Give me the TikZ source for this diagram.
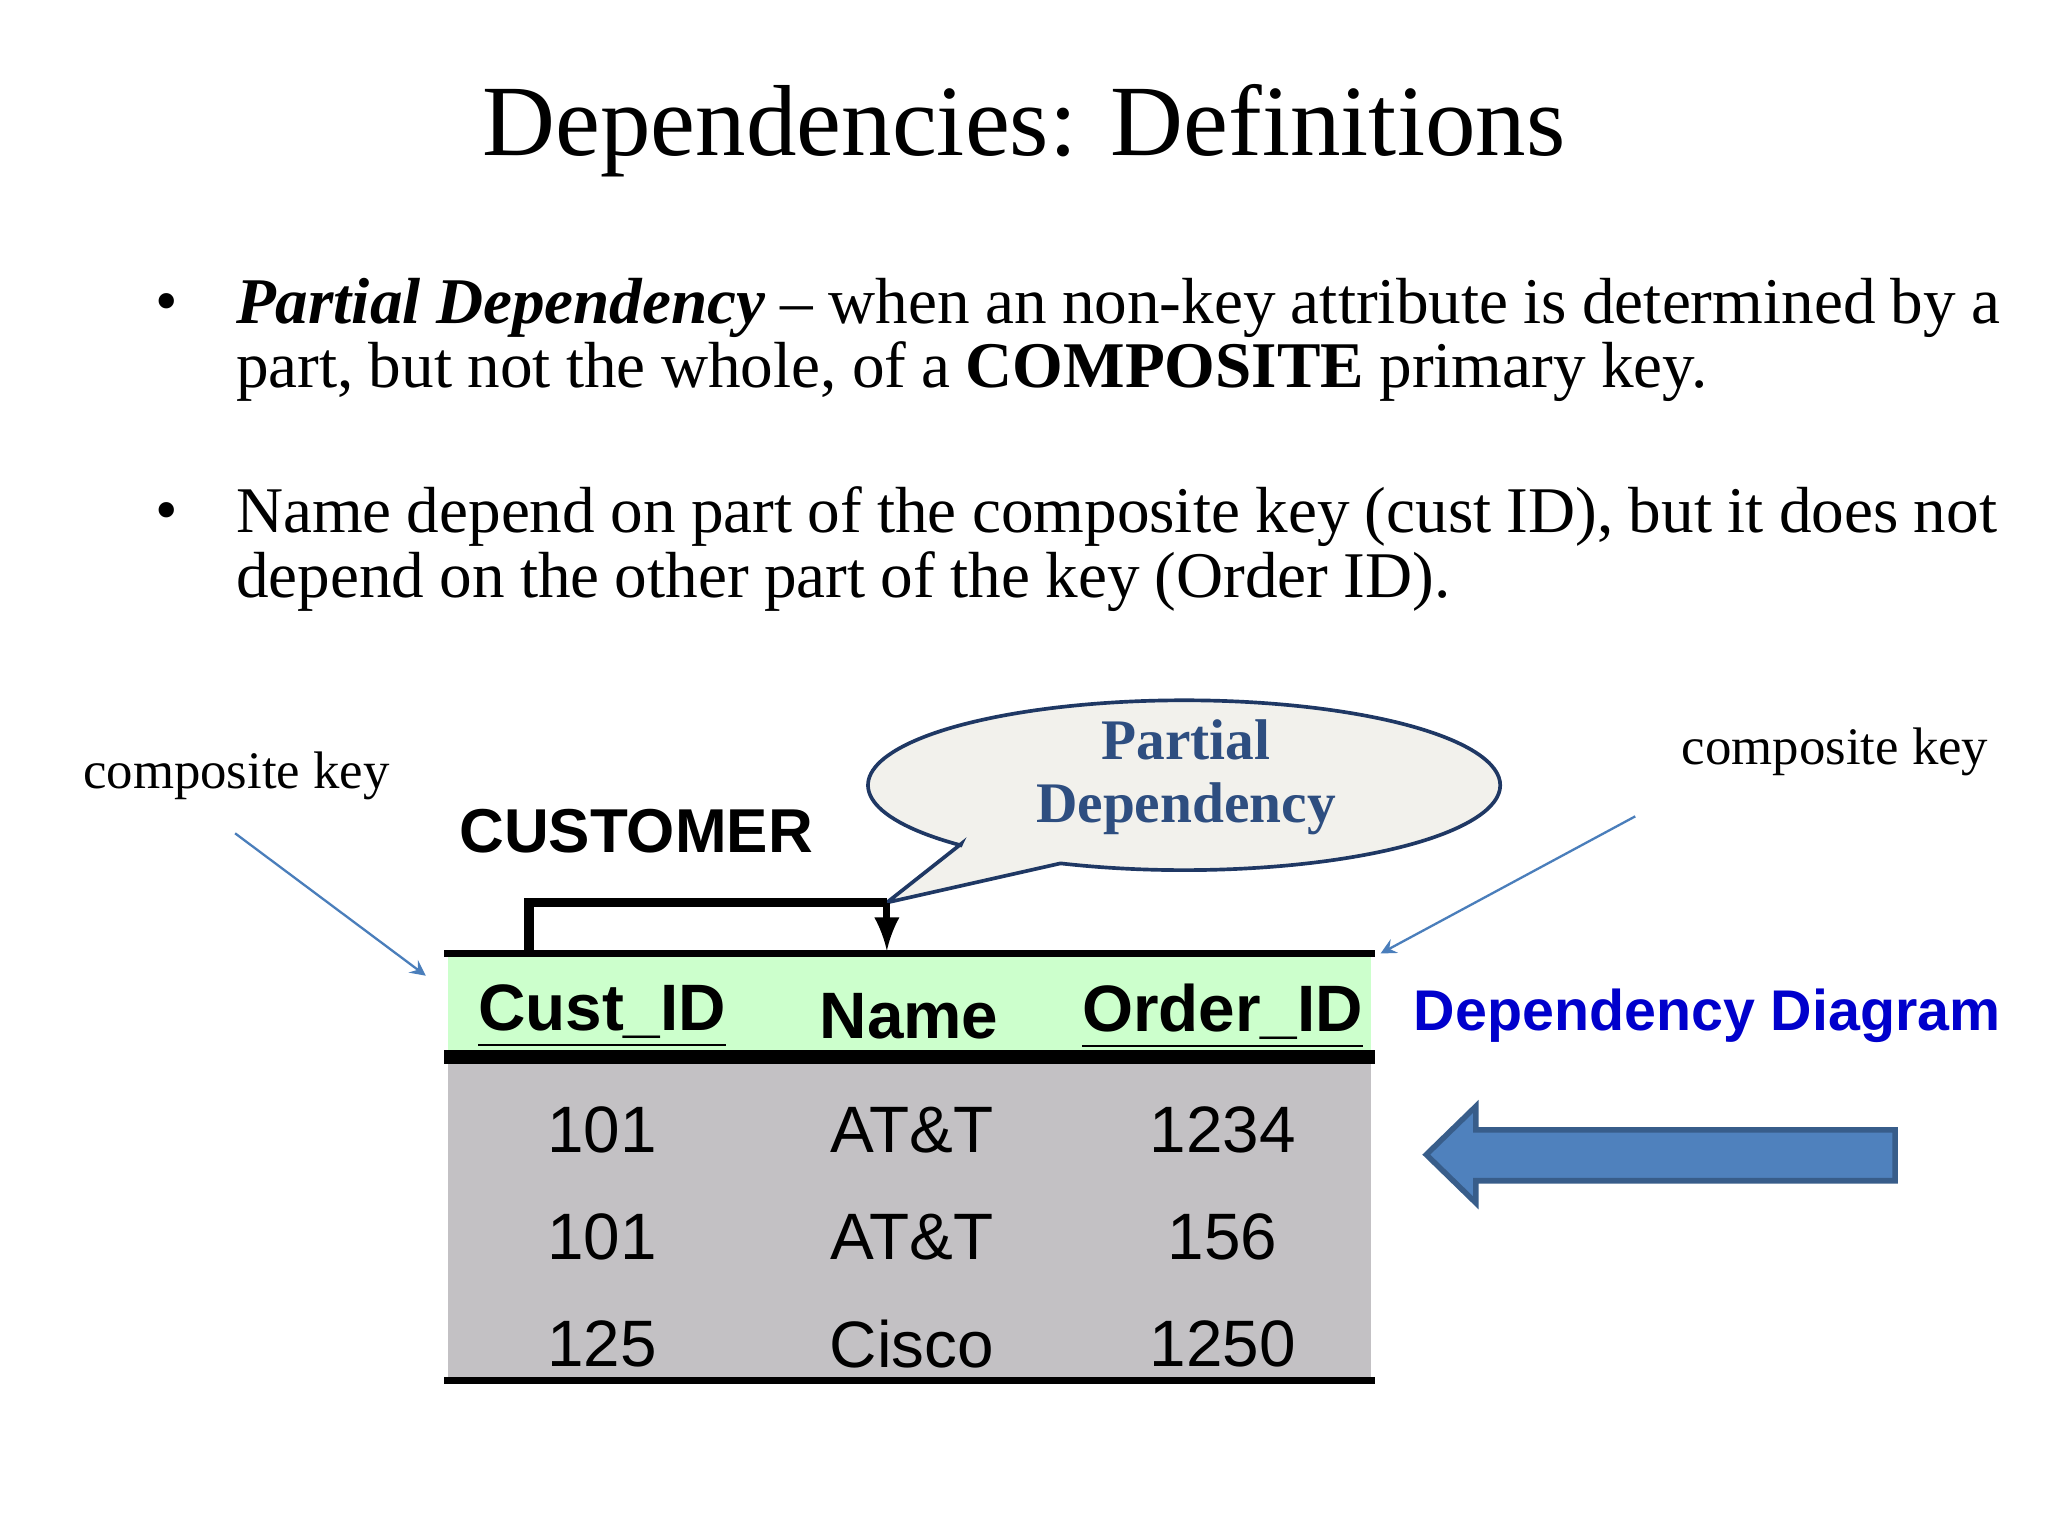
\documentclass[tikz,border=0pt]{standalone}
\usepackage{fontspec}
\setmainfont{Liberation Serif}
\setsansfont{Liberation Sans}
\newcommand{\myul}[1]{\underline{#1}}
\usetikzlibrary{shapes.geometric}
\definecolor{hdr}{HTML}{CCFFCC}
\definecolor{gry}{HTML}{C3C1C4}
\definecolor{dkb}{HTML}{1F3864}
\definecolor{pdb}{HTML}{2E4E80}
\definecolor{thin}{HTML}{4A7EBB}
\definecolor{blk}{HTML}{4F81BD}
\definecolor{blkb}{HTML}{385D8A}
\definecolor{callf}{HTML}{F2F1EC}
\definecolor{ddb}{HTML}{0000CC}
\tikzset{
 hd/.style={font=\sffamily\bfseries\fontsize{14.3}{17}\selectfont},
 cell/.style={font=\sffamily\fontsize{14.3}{17}\selectfont},
 ck/.style={font=\fontsize{11.5}{14}\selectfont},
 thinarrow/.style={draw=thin,line width=0.5pt,-stealth}
}
\begin{document}
\begin{tikzpicture}[x=0.1mm,y=-0.1mm]
\useasboundingbox (0,0) rectangle (1568,1176);
\fill[white] (0,0) rectangle (1568,1176);
\node (title) at (784,100) {\fontsize{22}{26}\selectfont Dependencies: Definitions};
\node (b1) at (128,236) {\fontsize{14}{16}\selectfont\textbullet};
\node[anchor=north west,inner sep=0,align=left,text width=136mm] (t1) at (180,212)
 {\fontsize{14.2}{13}\selectfont\textbf{\textit{Partial Dependency}} -- when an non-key attribute is determined by a part, but not the whole, of a \textbf{COMPOSITE} primary key.};
\node (b2) at (128,396) {\fontsize{14}{16}\selectfont\textbullet};
\node[anchor=north west,inner sep=0,align=left,text width=136mm] (t2) at (180,372)
 {\fontsize{14.2}{13}\selectfont Name depend on part of the composite key (cust ID), but it does not depend on the other part of the key (Order ID).};
% table
\fill[hdr] (343,730) rectangle (1050,808);
\fill[gry] (343,812) rectangle (1050,1057);
\draw[line width=1.5pt] (340,730) -- (1053,730);
\draw[line width=3pt] (340,809) -- (1053,809);
\draw[line width=1.5pt] (340,1057) -- (1053,1057);
\node[hd] (h1) at (461,778) {\myul{Cust\_ID}};
\node[hd] (h2) at (696,778) {Name};
\node[hd] (h3) at (936,778) {\myul{Order\_ID}};
\foreach \y/\a/\b/\c in {865/101/AT\&T/1234, 947/101/AT\&T/156, 1029/125/Cisco/1250}{
 \node[cell] at (461,\y) {\a};
 \node[cell] at (698,\y) {\b};
 \node[cell] at (936,\y) {\c};
}
\node[font=\sffamily\bfseries\fontsize{13.5}{16}\selectfont] (cust) at (487,636) {CUSTOMER};
% callout
\draw[dkb,fill=callf,line width=0.8pt]
 (736,646) -- (679,691) -- (812,661) arc[start angle=113,end angle=-225,x radius=242,y radius=65] -- cycle;
\node[align=center,text=pdb,font=\bfseries\fontsize{12.5}{13.6}\selectfont] (pd) at (908,595) {Partial\\Dependency};
\coordinate (bl) at (405,728);
\coordinate (br) at (679,728);
\draw[line width=2pt] (bl) -- (405,691) -- (679,691);
\draw[line width=1.5pt,-latex] (679,691) -- (br);
% composite keys
\node[ck] (ckl) at (181,594) {composite key};
\node[ck] (ckr) at (1405,576) {composite key};
\coordinate (a1) at (180,638); \coordinate (a2) at (326,747);
\coordinate (a3) at (1252,625); \coordinate (a4) at (1057,730);
\draw[thinarrow] (a1) -- (a2);
\draw[thinarrow] (a3) -- (a4);
\node[text=ddb,font=\sffamily\bfseries\fontsize{12.5}{16}\selectfont] (dd) at (1307,778) {Dependency Diagram};
\draw[blkb,fill=blk,line width=1.2pt] (1092,884) -- (1130,847) -- (1130,865) -- (1451,865) -- (1451,904) -- (1130,904) -- (1130,921) -- cycle;
\end{tikzpicture}
\end{document}
